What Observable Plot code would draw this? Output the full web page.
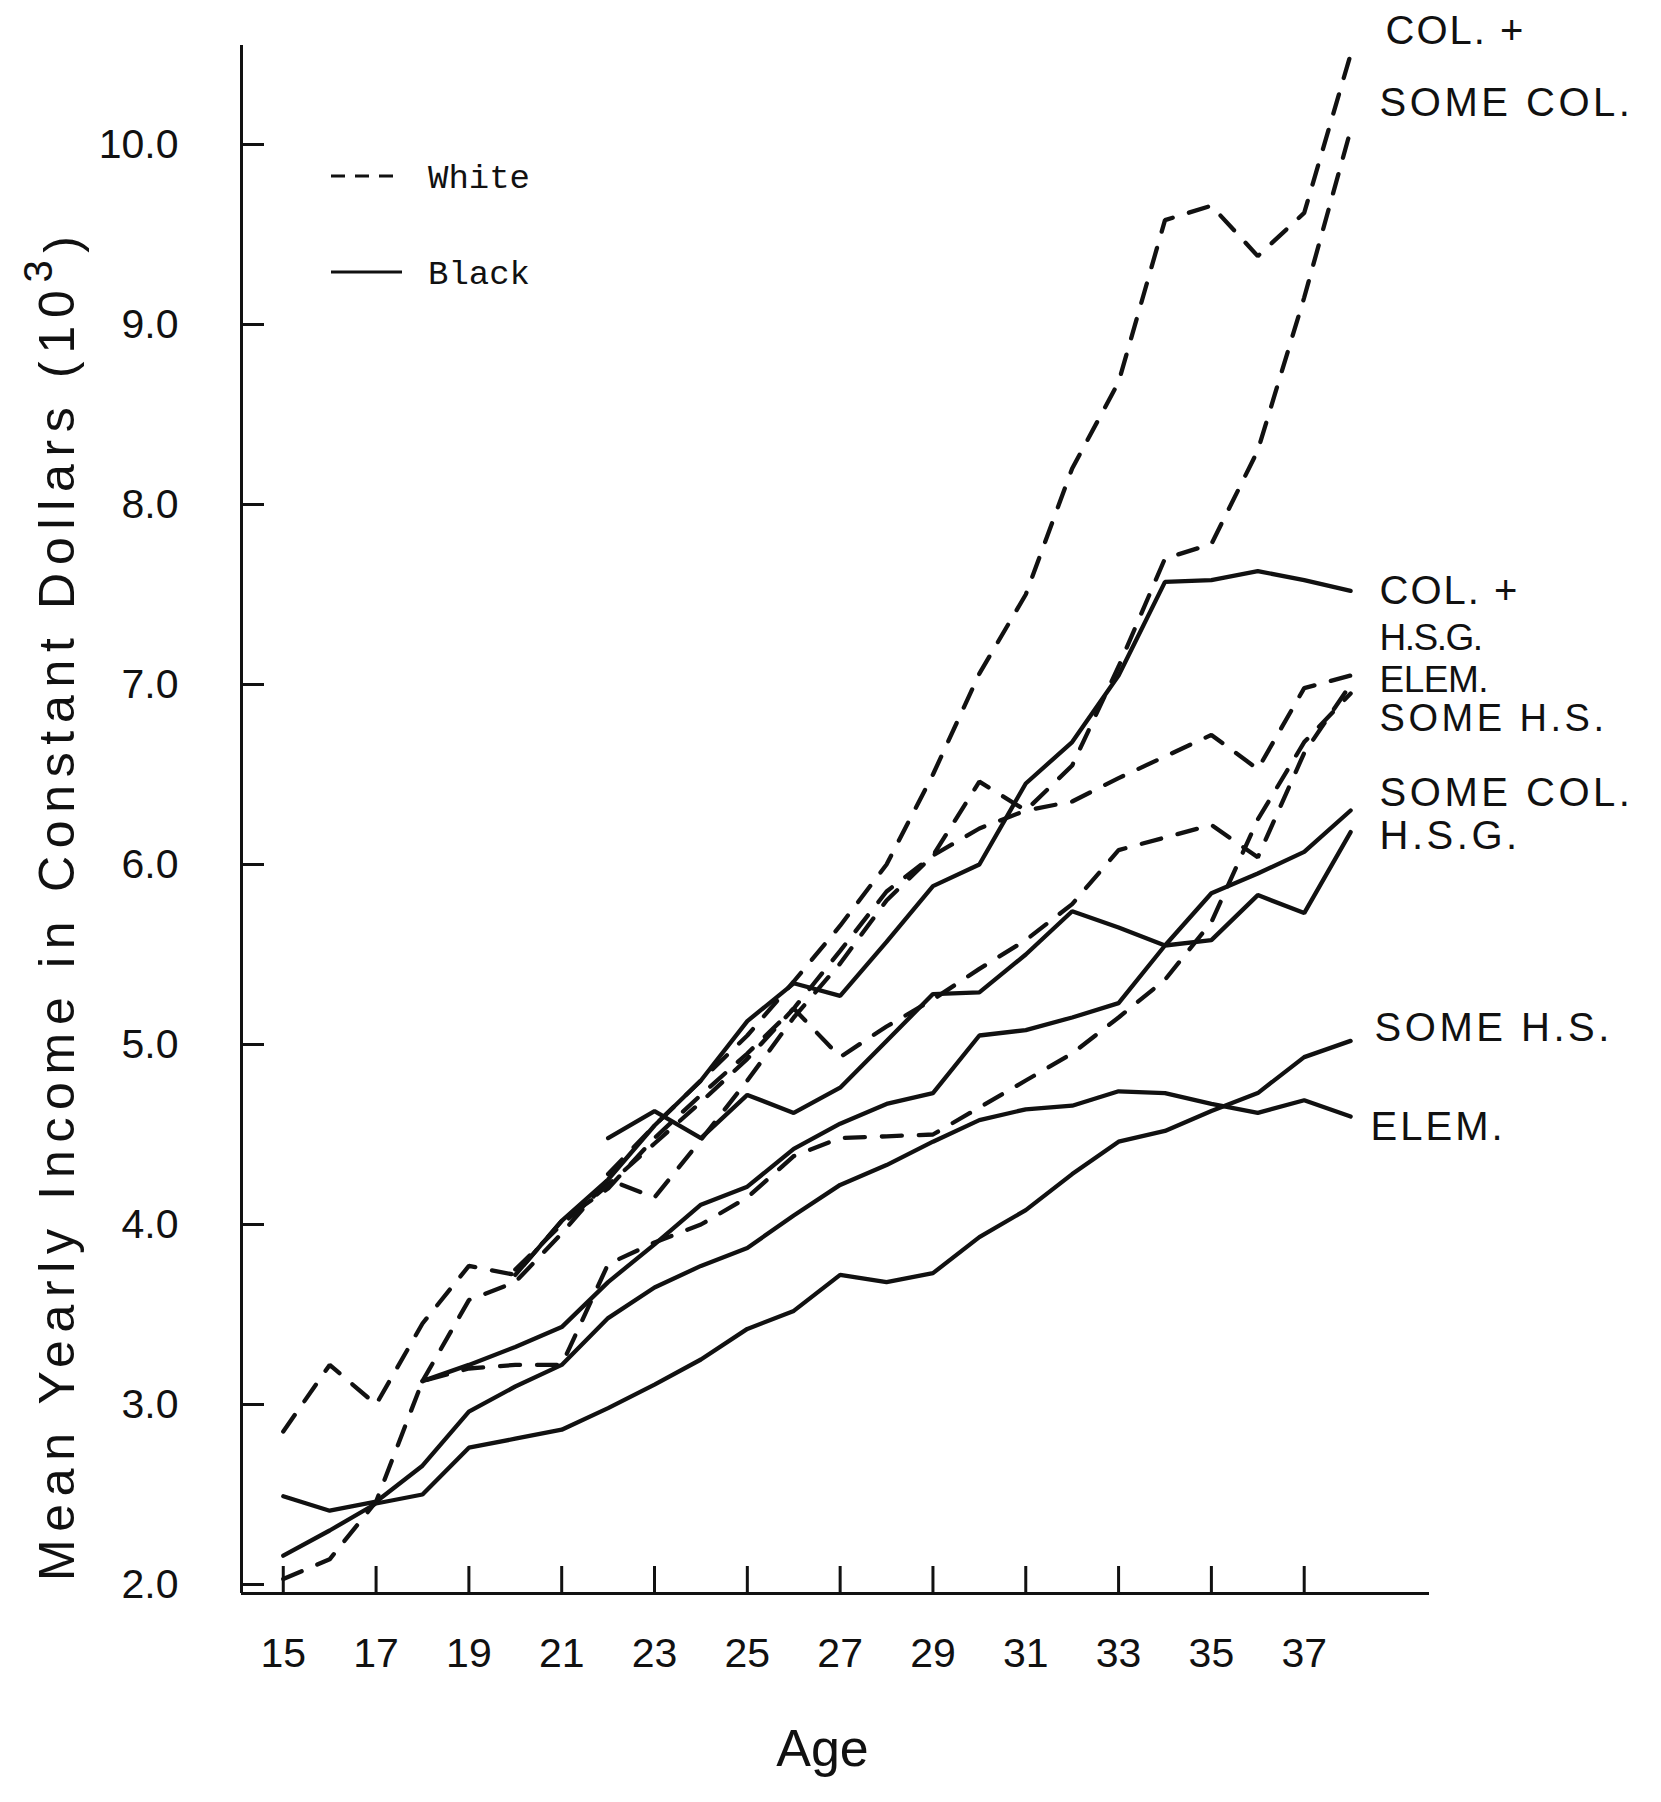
<!DOCTYPE html>
<html>
<head>
<meta charset="utf-8">
<script src="https://cdn.jsdelivr.net/npm/d3@7"></script>
<script src="https://cdn.jsdelivr.net/npm/@observablehq/plot@0.6"></script>
<style>
  html, body { margin: 0; padding: 0; background: #ffffff; }
  #chart svg { display: block; }
</style>
</head>
<body>
<div id="chart"></div>
<script>
// ---------------- DATA ----------------
const ages = [15,16,17,18,19,20,21,22,23,24,25,26,27,28,29,30,31,32,33,34,35,36,37,38];
const xTicks = [15,17,19,21,23,25,27,29,31,33,35,37];
const yTicks = [2,3,4,5,6,7,8,9,10];

// White (dashed)
const whiteElem   = [2.85,3.22,3.00,3.45,3.77,3.72,4.02,4.20,4.48,4.72,4.95,5.20,4.93,5.10,5.25,5.42,5.58,5.78,6.08,6.15,6.22,6.04,6.62,7.00];
const whiteSomeHS = [2.03,2.14,2.46,3.13,3.20,3.22,3.22,3.78,3.90,4.00,4.15,4.38,4.48,4.49,4.50,4.65,4.80,4.95,5.15,5.36,5.68,6.25,6.68,6.95];
const whiteHSG    = [null,null,null,3.13,3.58,3.68,3.95,4.25,4.15,4.47,4.80,5.15,5.45,5.80,6.05,6.46,6.30,6.35,6.48,6.60,6.72,6.53,6.98,7.05];
const whiteSomeCol= [null,null,null,null,null,3.75,4.00,4.22,4.45,4.68,4.92,5.20,5.52,5.85,6.05,6.20,6.30,6.55,7.10,7.70,7.78,8.30,9.15,10.08];
const whiteColPlus= [null,null,null,null,null,null,null,4.28,4.55,4.80,5.05,5.35,5.66,6.00,6.50,7.06,7.50,8.20,8.68,9.58,9.66,9.38,9.62,10.50];

// Black (solid)
const blackElem   = [2.49,2.41,2.46,2.66,2.96,3.10,3.22,3.48,3.65,3.77,3.87,4.05,4.22,4.33,4.46,4.58,4.64,4.66,4.74,4.73,4.67,4.62,4.69,4.60];
const blackSomeHS = [2.16,2.30,2.45,2.50,2.76,2.81,2.86,2.98,3.11,3.25,3.42,3.52,3.72,3.68,3.73,3.93,4.08,4.28,4.46,4.52,4.63,4.73,4.93,5.02];
const blackHSG    = [null,null,null,3.13,3.22,3.32,3.43,3.68,3.89,4.11,4.21,4.42,4.56,4.67,4.73,5.05,5.08,5.15,5.23,5.55,5.58,5.83,5.73,6.18];
const blackSomeCol= [null,null,null,null,null,null,null,4.48,4.63,4.48,4.72,4.62,4.76,5.02,5.28,5.29,5.50,5.74,5.65,5.55,5.84,5.95,6.07,6.30];
const blackColPlus= [null,null,null,null,null,3.72,4.02,4.25,4.55,4.80,5.13,5.34,5.27,5.57,5.88,6.00,6.45,6.68,7.05,7.57,7.58,7.63,7.58,7.52];

const seriesRace  = ["White","White","White","White","White","Black","Black","Black","Black","Black"];
const seriesLabel = ["ELEM.","SOME H.S.","H.S.G.","SOME COL.","COL. +","ELEM.","SOME H.S.","H.S.G.","SOME COL.","COL. +"];
const seriesVals  = [whiteElem, whiteSomeHS, whiteHSG, whiteSomeCol, whiteColPlus,
                     blackElem, blackSomeHS, blackHSG, blackSomeCol, blackColPlus];

const legendRaces = ["White","Black"];
const yTitle = "Mean Yearly Income in Constant Dollars (10";
const xTitle = "Age";

// ---------------- LAYOUT (not data) ----------------
const W = 1661, H = 1802;
const xDomain = [14.1, 39.7];
const yDomain = [1.95, 10.55];
// pixel nudges and type sizes for the end labels, in series order
const labelNudge = [
  {dx: 29, dy: -4,  size: 37, ls: -0.5},  // white ELEM.
  {dx: 29, dy: 25,  size: 38, ls: 3.5},   // white SOME H.S.
  {dx: 29, dy: -37, size: 37, ls: -1.5},  // white H.S.G.
  {dx: 29, dy: -27, size: 40, ls: 3.5},   // white SOME COL.
  {dx: 35, dy: -23, size: 40, ls: 2},     // white COL. +
  {dx: 20, dy: 11,  size: 40, ls: 3},     // black ELEM.
  {dx: 24, dy: -13, size: 40, ls: 3.5},   // black SOME H.S.
  {dx: 29, dy: 4,   size: 40, ls: 3.5},   // black H.S.G.
  {dx: 29, dy: -17, size: 40, ls: 3.5},   // black SOME COL.
  {dx: 29, dy: 0,   size: 40, ls: 2}      // black COL. +
];

// ---------------- TABLE ----------------
const table = [];
seriesVals.forEach((vals, s) => {
  vals.forEach((v, i) => {
    if (v != null) table.push({race: seriesRace[s], edu: seriesLabel[s], key: s, age: ages[i], value: v});
  });
});
const ends = seriesVals.map((vals, s) => {
  let i = vals.length - 1;
  while (vals[i] == null) i--;
  return {key: s, race: seriesRace[s], label: seriesLabel[s], age: ages[i], value: vals[i]};
});

const ink = "#111111";
const font = "'Liberation Sans', Arial, sans-serif";

const labelMarks = ends.map((e, s) => Plot.text([e], {
  x: "age", y: "value", text: "label",
  textAnchor: "start", dx: labelNudge[s].dx, dy: labelNudge[s].dy,
  fontSize: labelNudge[s].size, fill: ink
}));

const plot = Plot.plot({
  width: W, height: H,
  marginLeft: 241, marginRight: 232, marginTop: 45, marginBottom: 209,
  style: {fontFamily: font, background: "#ffffff", color: ink},
  x: {domain: xDomain},
  y: {domain: yDomain},
  marks: [
    Plot.ruleX([xDomain[0]], {stroke: ink, strokeWidth: 3}),
    Plot.ruleY([yDomain[0]], {stroke: ink, strokeWidth: 3}),
    Plot.axisY(yTicks, {tickSize: -23, tickPadding: 86, tickFormat: d => d.toFixed(1),
      fontSize: 41, label: null, stroke: ink, strokeWidth: 3, fill: ink}),
    Plot.axisX(xTicks, {tickSize: -27, tickPadding: 71, tickFormat: d => String(d),
      fontSize: 41, label: null, stroke: ink, strokeWidth: 3, fill: ink}),
    Plot.line(table.filter(d => d.race === "White"), {
      x: "age", y: "value", z: "key", stroke: ink, strokeWidth: 4.3,
      strokeDasharray: "20,17", strokeLinecap: "round", strokeLinejoin: "miter"
    }),
    Plot.line(table.filter(d => d.race === "Black"), {
      x: "age", y: "value", z: "key", stroke: ink, strokeWidth: 4.3,
      strokeLinecap: "round", strokeLinejoin: "miter"
    }),
    ...labelMarks,
    Plot.text([yTitle], {frameAnchor: "left", rotate: -90, dx: -184, dy: 89,
      fontSize: 50, textAnchor: "middle", fill: ink}),
    Plot.text([xTitle], {frameAnchor: "bottom", dx: -13, dy: 172,
      fontSize: 52, textAnchor: "middle", fill: ink})
  ]
});

document.getElementById("chart").appendChild(plot);
const svg = d3.select(plot);

// Y title with superscript exponent
svg.selectAll("text").filter(function() { return this.textContent === yTitle; })
  .each(function() {
    const el = d3.select(this);
    el.text(null);
    el.append("tspan").text(yTitle);
    el.append("tspan").attr("dy", "-0.55em").attr("font-size", "0.8em").text("3");
    el.append("tspan").attr("dy", "0.55em").text(")");
    el.attr("textLength", 1345).attr("lengthAdjust", "spacing");
  });

// letter spacing on end labels (label marks are the first text groups)
const textGroups = svg.selectAll("g[aria-label='text']").nodes();
textGroups.slice(0, ends.length).forEach((g, s) => {
  d3.select(g).selectAll("text").style("letter-spacing", labelNudge[s].ls + "px");
});

// Legend (white dashed, black solid)
const leg = svg.append("g").attr("class", "legend");
const legY = [176, 272];
legendRaces.forEach((r, i) => {
  leg.append("line").attr("x1", 331).attr("x2", 402).attr("y1", legY[i]).attr("y2", legY[i])
    .attr("stroke", ink).attr("stroke-width", 3)
    .attr("stroke-dasharray", r === "White" ? "14,10" : null);
  leg.append("text").attr("x", 428).attr("y", legY[i]).attr("dy", "0.35em")
    .attr("text-anchor", "start")
    .attr("font-family", "'Liberation Mono', 'DejaVu Sans Mono', monospace")
    .attr("font-size", 34).attr("fill", ink).text(r);
});
</script>
</body>
</html>
